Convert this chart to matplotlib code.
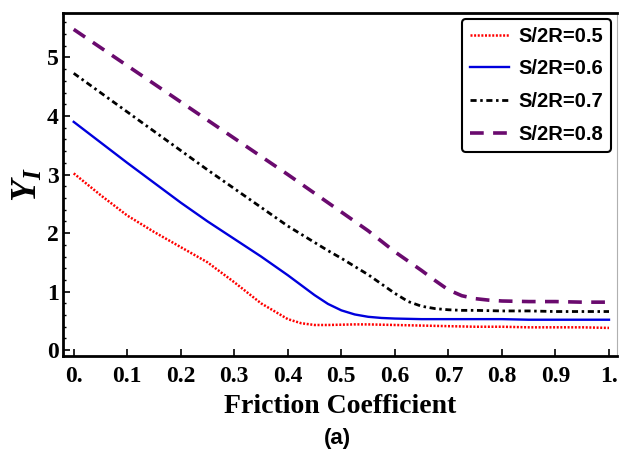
import matplotlib
matplotlib.use("Agg")
import matplotlib.pyplot as plt
from matplotlib.ticker import MultipleLocator, FixedLocator

plt.rcParams['mathtext.fontset'] = 'custom'
plt.rcParams['mathtext.it'] = 'Liberation Serif:italic:bold'
plt.rcParams['mathtext.rm'] = 'Liberation Serif:bold'

friction = [0.0, 0.05, 0.1, 0.15, 0.2, 0.25, 0.3, 0.35, 0.4, 0.425, 0.45, 0.475, 0.5,
            0.525, 0.55, 0.575, 0.6, 0.625, 0.65, 0.675, 0.7, 0.725, 0.75, 0.775, 0.8,
            0.85, 0.9, 0.95, 1.0]
y_05 = [3.02, 2.65, 2.30, 2.02, 1.76, 1.50, 1.16, 0.80, 0.53, 0.46, 0.43, 0.43, 0.435,
        0.44, 0.44, 0.435, 0.43, 0.425, 0.42, 0.415, 0.41, 0.405, 0.40, 0.40, 0.40,
        0.39, 0.39, 0.39, 0.38]
y_06 = [3.90, 3.55, 3.20, 2.86, 2.52, 2.20, 1.90, 1.60, 1.28, 1.11, 0.94, 0.79, 0.68,
        0.61, 0.57, 0.55, 0.54, 0.535, 0.53, 0.53, 0.53, 0.53, 0.53, 0.53, 0.53,
        0.52, 0.52, 0.52, 0.52]
y_07 = [4.73, 4.40, 4.07, 3.74, 3.41, 3.08, 2.76, 2.44, 2.12, 1.98, 1.84, 1.70, 1.57,
        1.43, 1.29, 1.13, 0.97, 0.83, 0.75, 0.71, 0.69, 0.68, 0.68, 0.675, 0.67,
        0.67, 0.66, 0.66, 0.66]
y_08 = [5.48, 5.17, 4.86, 4.55, 4.24, 3.93, 3.62, 3.31, 3.00, 2.84, 2.68, 2.52, 2.36,
        2.20, 2.04, 1.86, 1.68, 1.52, 1.36, 1.19, 1.03, 0.93, 0.88, 0.855, 0.84,
        0.83, 0.83, 0.82, 0.82]
labels = ["S/2R=0.5", "S/2R=0.6", "S/2R=0.7", "S/2R=0.8"]
xtick_vals = [0.0, 0.1, 0.2, 0.3, 0.4, 0.5, 0.6, 0.7, 0.8, 0.9, 1.0]
xtick_labels = ["0.", "0.1", "0.2", "0.3", "0.4", "0.5", "0.6", "0.7", "0.8", "0.9", "1."]
ytick_vals = [0, 1, 2, 3, 4, 5]

fig = plt.figure(figsize=(6.19, 4.53), dpi=100)
ax = fig.add_axes([0.1018, 0.2141, 0.8950, 0.7572])

ax.plot(friction, y_05, color='#ff0000', lw=1.8, linestyle=(0, (0.8, 0.65)), label=labels[0])
ax.plot(friction, y_06, color='#0000dd', lw=1.7, linestyle='-', label=labels[1])
ax.plot(friction, y_07, color='black', lw=2.0, linestyle=(0, (2.2, 1.3, 0.9, 1.3)), label=labels[2])
ax.plot(friction, y_08, color='#6a0a6e', lw=2.6, linestyle=(0, (3.8, 2.6)), label=labels[3])

ax.set_xlim(-0.02, 1.015)
ax.set_ylim(-0.1, 5.76)

ax.xaxis.set_major_locator(FixedLocator(xtick_vals))
ax.set_xticklabels(xtick_labels)
ax.yaxis.set_major_locator(FixedLocator(ytick_vals))
ax.yaxis.set_minor_locator(MultipleLocator(0.2))

for lab in ax.get_xticklabels() + ax.get_yticklabels():
    lab.set_fontfamily('Liberation Serif')
    lab.set_fontweight('bold')
    lab.set_fontsize(17)

ax.tick_params(axis='both', which='major', direction='in', length=5, width=1.2)
ax.tick_params(axis='y', which='minor', direction='in', length=2.5, width=1.0)
ax.tick_params(axis='x', which='major', pad=7)
ax.tick_params(axis='y', which='major', pad=3)

for s in ['left', 'bottom', 'top']:
    ax.spines[s].set_linewidth(2.0)
    ax.spines[s].set_color('black')
ax.spines['right'].set_linewidth(0.8)
ax.spines['right'].set_color('#b0b0b0')

ax.set_xlabel("Friction Coefficient", fontfamily='Liberation Serif', fontweight='bold', fontsize=20, labelpad=5)
ax.set_ylabel(r"$Y_I$", fontsize=26, labelpad=2)

fig.text(0.545, 0.033, "(a)", fontfamily='Liberation Sans', fontweight='bold', fontsize=16,
         ha='center', va='center')

leg = ax.legend(loc='upper right', bbox_to_anchor=(0.997, 0.995),
                prop=dict(family='Liberation Sans', weight='bold', size=14.5),
                handlelength=1.95, handletextpad=0.45, labelspacing=0.68,
                borderpad=0.4, borderaxespad=0.2, fancybox=True, framealpha=1)
leg.get_frame().set_edgecolor('black')
leg.get_frame().set_linewidth(1.5)

fig.savefig("out.png", dpi=100)
